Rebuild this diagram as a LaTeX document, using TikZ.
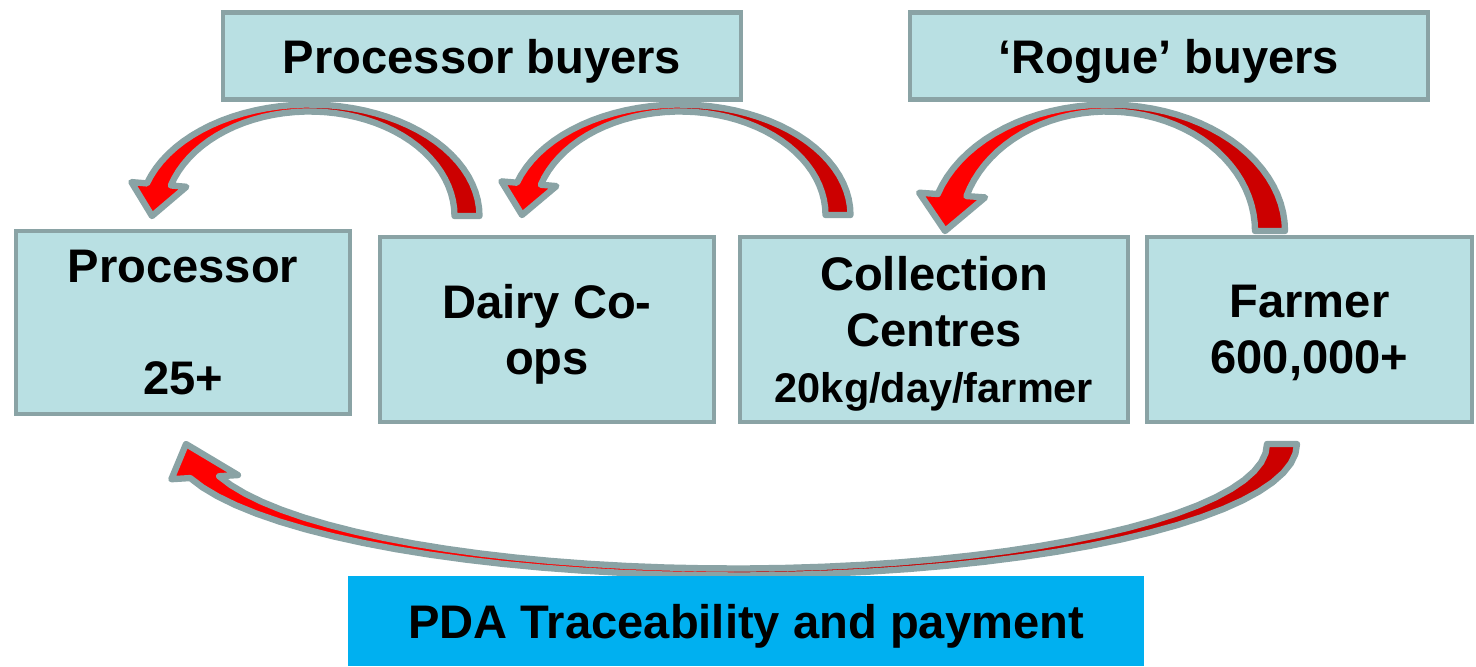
\documentclass[tikz,border=0pt]{standalone}
\usepackage{fontspec}
\setmainfont{Liberation Sans}
\usepackage{xcolor}

\definecolor{boxfill}{RGB}{185,224,227}
\definecolor{boxline}{RGB}{138,163,165}
\definecolor{pdafill}{RGB}{0,176,240}
\definecolor{arrowred}{RGB}{255,0,0}
\definecolor{arrowdark}{RGB}{204,0,0}

\tikzset{
  box/.style={draw=boxline, line width=1.3pt, fill=boxfill, align=center,
    inner sep=0pt, text depth=0pt, font=\bfseries\fontsize{13.4}{16}\selectfont},
}

% curved block arrow: #1,#2 foot centre, #3 half span, #4 rise,
% #5 1 = arch up / -1 = arch down, #6 head angle, #7 half band
\newcommand{\bendarrow}[7]{%
  \pgfmathsetmacro\ao{#3+#7}
  \pgfmathsetmacro\ai{#3-#7}
  \pgfmathsetmacro\bo{#4}
  \pgfmathsetmacro\bi{#4-7}
  \pgfmathsetmacro\hb{180-#6}
  \pgfmathsetmacro\ox{#1+\ao*cos(\hb)}
  \pgfmathsetmacro\oy{#2-(#5)*\bo*sin(\hb)}
  \pgfmathsetmacro\ix{#1+\ai*cos(\hb)}
  \pgfmathsetmacro\iy{#2-(#5)*\bi*sin(\hb)}
  \def\arrowpath{plot[domain=0:\hb,samples=40] ({#1+\ao*cos(\x)},{#2-(#5)*\bo*sin(\x)})
    -- ({\ox+0.65*(\ox-\ix)},{\oy+0.65*(\oy-\iy)}) -- ({#1-#3},{#2})
    -- ({\ix+0.65*(\ix-\ox)},{\iy+0.65*(\iy-\oy)})
    -- plot[domain=\hb:0,samples=40] ({#1+\ai*cos(\x)},{#2-(#5)*\bi*sin(\x)}) -- cycle}
  \fill[arrowred] \arrowpath;
  \fill[arrowdark] plot[domain=0:90,samples=30] ({#1+\ao*cos(\x)},{#2-(#5)*\bo*sin(\x)})
    -- plot[domain=90:0,samples=30] ({#1+\ai*cos(\x)},{#2-(#5)*\bi*sin(\x)}) -- cycle;
  \draw[boxline, line width=1.8pt, line join=round] \arrowpath;
}

\begin{document}
\begin{tikzpicture}[x=0.01cm, y=-0.01cm]
\useasboundingbox (0,0) rectangle (1476,666);
\clip (0,0) rectangle (1476,666);

% buyers
\node[box, minimum width=51.8mm, minimum height=8.7mm] (pbuy) at (482,56) {Processor buyers};
\node[box, minimum width=51.8mm, minimum height=8.7mm] (rbuy) at (1169,56) {‘Rogue’ buyers};

% chain
\node[box, minimum width=33.4mm, minimum height=18.3mm] (proc) at (183,322.5) {Processor\\ \\25+};
\node[box, minimum width=33.4mm, minimum height=18.5mm] (coop) at (547,329.5) {Dairy Co-\\ops};
\node[box, minimum width=38.8mm, minimum height=18.5mm] (coll) at (934,329.5)
  {Collection\\Centres\\{\fontsize{11.8}{15}\selectfont 20kg/day/farmer}};
\node[box, minimum width=32.5mm, minimum height=18.5mm] (farm) at (1309.5,329.5) {Farmer\\600,000+};

% arrows
\foreach \cx/\cy/\am/\bh/\s/\hd/\hw in {309.5/216/157.5/111.5/1/17/12.5,
    680/215/158/110.5/1/17/12.5, 1107.5/231/162.5/126.5/1/17/15,
    734/444/548/131.5/-1/15/15}
{
  \bendarrow{\cx}{\cy}{\am}{\bh}{\s}{\hd}{\hw}
}

\node[box, draw=none, fill=pdafill, minimum width=79.6mm, minimum height=9mm] (pda) at (746,621)
  {PDA Traceability and payment};
\end{tikzpicture}
\end{document}
